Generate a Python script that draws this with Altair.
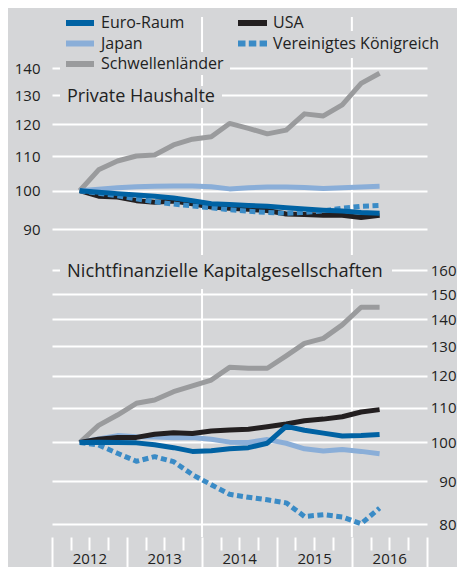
import math
import altair as alt
import pandas as pd

# ---------------- data ----------------
quarters = ["2012-05-15", "2012-08-15", "2012-11-15", "2013-02-15", "2013-05-15",
            "2013-08-15", "2013-11-15", "2014-02-15", "2014-05-15", "2014-08-15",
            "2014-11-15", "2015-02-15", "2015-05-15", "2015-08-15", "2015-11-15",
            "2016-02-15", "2016-05-15"]

series_names = ["Euro-Raum", "USA", "Japan", "Vereinigtes Königreich", "Schwellenländer"]

# Private Haushalte
hh_euro = [100, 99.6, 99.2, 98.8, 98.5, 98.0, 97.3, 96.5, 96.3, 96.0, 95.8, 95.4, 95.1, 94.8, 94.6, 94.2, 94.0]
hh_usa = [100, 98.5, 98.3, 97.3, 96.9, 97.2, 96.5, 95.6, 95.3, 95.0, 94.7, 93.8, 93.7, 93.5, 93.5, 92.9, 93.5]
hh_japan = [100, 100.4, 100.8, 101.1, 101.2, 101.3, 101.3, 101.1, 100.5, 100.8, 101.0, 101.0, 100.9, 100.6, 100.8, 101.0, 101.2]
hh_uk = [100, 99.3, 98.6, 97.8, 97.0, 96.4, 95.9, 95.4, 94.9, 94.5, 94.2, 94.0, 94.2, 94.6, 95.3, 95.8, 96.0]
hh_em = [100, 105.9, 108.5, 110.0, 110.3, 113.4, 115.2, 116.0, 120.3, 118.7, 116.9, 118.1, 123.5, 122.8, 126.6, 134.3, 138.1]

# Nichtfinanzielle Kapitalgesellschaften
nfc_euro = [100, 100.1, 100.0, 99.9, 99.4, 98.6, 97.6, 97.8, 98.3, 98.6, 99.8, 104.5, 103.4, 102.6, 101.8, 101.9, 102.2]
nfc_usa = [100, 100.9, 101.4, 101.4, 102.3, 102.7, 102.5, 103.2, 103.5, 103.7, 104.4, 105.2, 106.1, 106.6, 107.3, 108.7, 109.4]
nfc_japan = [100, 101.0, 101.9, 101.6, 101.5, 101.3, 101.4, 100.9, 100.1, 100.0, 100.8, 99.8, 98.3, 97.7, 98.1, 97.6, 97.0]
nfc_uk = [100, 99.3, 97.1, 95.0, 96.2, 94.9, 91.6, 89.1, 86.8, 86.1, 85.5, 84.8, 81.7, 82.1, 81.6, 80.1, 83.6]
nfc_em = [100, 104.8, 107.8, 111.3, 112.3, 114.9, 116.7, 118.6, 122.8, 122.5, 122.5, 126.7, 131.1, 132.9, 137.9, 144.7, 144.7]

top_ticks = [90, 100, 110, 120, 130, 140]
bottom_ticks = [80, 90, 100, 110, 120, 130, 140, 150, 160]
year_labels = [2012, 2013, 2014, 2015, 2016]
vgrid_dates = ["2014-01-01", "2016-01-01"]

title_top = "Private Haushalte"
title_bottom = "Nichtfinanzielle Kapitalgesellschaften"

# ---------------- styles ----------------
BG = "#d5d6d8"
TXT = "#222222"
FONT = "Open Sans"
COLORS = {
    "Euro-Raum": "#0062a3",
    "USA": "#231f20",
    "Japan": "#8aaed8",
    "Vereinigtes Königreich": "#3a8bc6",
    "Schwellenländer": "#9a9b9d",
}
DASH = {"Vereinigtes Königreich": [6, 3.5]}
LW = 5

W, H = 375, 529

def log_range(ref_val, ref_px, k, lo, hi):
    return [ref_px + k * math.log(ref_val / lo), ref_px - k * math.log(hi / ref_val)]

top_dom = [85, 160]
top_scale = alt.Scale(type="log", domain=top_dom, range=log_range(100, 182.7, 364, *top_dom), nice=False)
bot_dom = [78, 170]
bot_scale = alt.Scale(type="log", domain=bot_dom, range=log_range(100, 434.5, 366, *bot_dom), nice=False)

def dt(y, m):
    return alt.DateTime(year=y, month=m, date=1, utc=True)

x_scale = alt.Scale(type="utc", domain=[dt(2012, 1), dt(2017, 1)])
tick_values = [dt(y, m) for y in range(year_labels[0], year_labels[-1] + 1) for m in (1, 4, 7, 10)] + [dt(2017, 1)]
x_axis = alt.Axis(
    values=tick_values, title=None, domain=False, grid=False,
    ticks=True, tickColor="white", tickWidth=2,
    tickSize={"condition": {"test": "utcmonth(datum.value) == 0", "value": 30}, "value": 13},
    labelExpr="utcmonth(datum.value) == 6 ? utcFormat(datum.value, '%Y') : ''",
    labelFontSize=15, labelColor=TXT, labelFont=FONT, labelPadding=1, labelFlush=False,
)
x_enc = alt.X("date:T", scale=x_scale, axis=x_axis)

top_axis = alt.Axis(orient="left", values=top_ticks, title=None, domain=False, ticks=False,
                    grid=True, gridColor="white", gridWidth=2, labelPadding=12,
                    labelFontSize=15, labelColor=TXT, labelFont=FONT, format="d")
bot_axis = alt.Axis(orient="right", values=bottom_ticks, title=None, domain=False, ticks=False,
                    grid=True, gridColor="white", gridWidth=2, labelPadding=29, labelAlign="right",
                    labelFontSize=15, labelColor=TXT, labelFont=FONT, format="d")

one = pd.DataFrame({"k": [0]})

def line(name, values, yscale, yaxis):
    df = pd.DataFrame({"date": quarters, "value": values, "series": name})
    kw = dict(color=COLORS[name], strokeWidth=LW, strokeCap="butt", strokeJoin="round")
    if name in DASH:
        kw["strokeDash"] = DASH[name]
    return alt.Chart(df).mark_line(**kw).encode(
        x=x_enc, y=alt.Y("value:Q", scale=yscale, axis=yaxis)
    )

def box(x0, x1, y0, y1):
    return alt.Chart(one).mark_rect(color=BG).encode(
        x=alt.value(x0), x2=alt.value(x1), y=alt.value(y0), y2=alt.value(y1))

def label(txt, x, y, size):
    return alt.Chart(one).mark_text(text=txt, align="left", baseline="middle",
                                    fontSize=size, font=FONT, color=TXT).encode(
        x=alt.value(x), y=alt.value(y))

def symbol(name, x0, x1, y):
    kw = dict(color=COLORS[name], strokeWidth=6, strokeCap="butt")
    if name == "Vereinigtes Königreich":
        kw["strokeDash"] = [7.5, 3.3]
    return alt.Chart(one).mark_rule(**kw).encode(x=alt.value(x0), x2=alt.value(x1), y=alt.value(y))

# vertical white gridlines at 2014 and 2016
vgrid = alt.Chart(pd.DataFrame({"date": vgrid_dates})).mark_rule(color="white", strokeWidth=2).encode(
    x=x_enc, y=alt.value(9), y2=alt.value(H))

draw_order = ["Schwellenländer", "Japan", "USA", "Vereinigtes Königreich", "Euro-Raum"]
hh = dict(zip(series_names, [hh_euro, hh_usa, hh_japan, hh_uk, hh_em]))
nfc = dict(zip(series_names, [nfc_euro, nfc_usa, nfc_japan, nfc_uk, nfc_em]))

# background boxes hiding gridlines behind texts
boxes = [
    box(8, 178, 44, 67),
    box(181, 380, 23, 50),
    box(8, 170, 78, 100),
    box(8, 340, 247, 281),
]

top_layers = [vgrid] + boxes + [line(n, hh[n], top_scale, top_axis) for n in draw_order]
bot_layers = [line(n, nfc[n], bot_scale, bot_axis) for n in draw_order]

rows = [15, 35.5, 56]
legend_pos = {
    "Euro-Raum": (14, 42, 49, rows[0]),
    "Japan": (14, 42, 49, rows[1]),
    "Schwellenländer": (14, 42, 49, rows[2]),
    "USA": (186, 215, 221, rows[0]),
    "Vereinigtes Königreich": (186, 215, 221, rows[1]),
}
legend_layers = []
for n in series_names:
    s0, s1, tx, ty = legend_pos[n]
    legend_layers.append(symbol(n, s0, s1, ty))
    legend_layers.append(label(n, tx, ty, 16))

title_layers = [label(title_top, 15, 89, 18), label(title_bottom, 15, 264, 18.3)]

top = alt.layer(*top_layers, *legend_layers, *title_layers)
bottom = alt.layer(*bot_layers)

chart = alt.layer(top, bottom).resolve_scale(y="independent").properties(
    width=W, height=H,
    autosize=alt.AutoSizeParams(type="none"),
    padding={"left": 44, "right": 30, "top": 0, "bottom": 30},
).configure(background=BG, font=FONT).configure_view(stroke="transparent")

chart.save("out.html", embed_options={"renderer": "svg", "actions": False})
